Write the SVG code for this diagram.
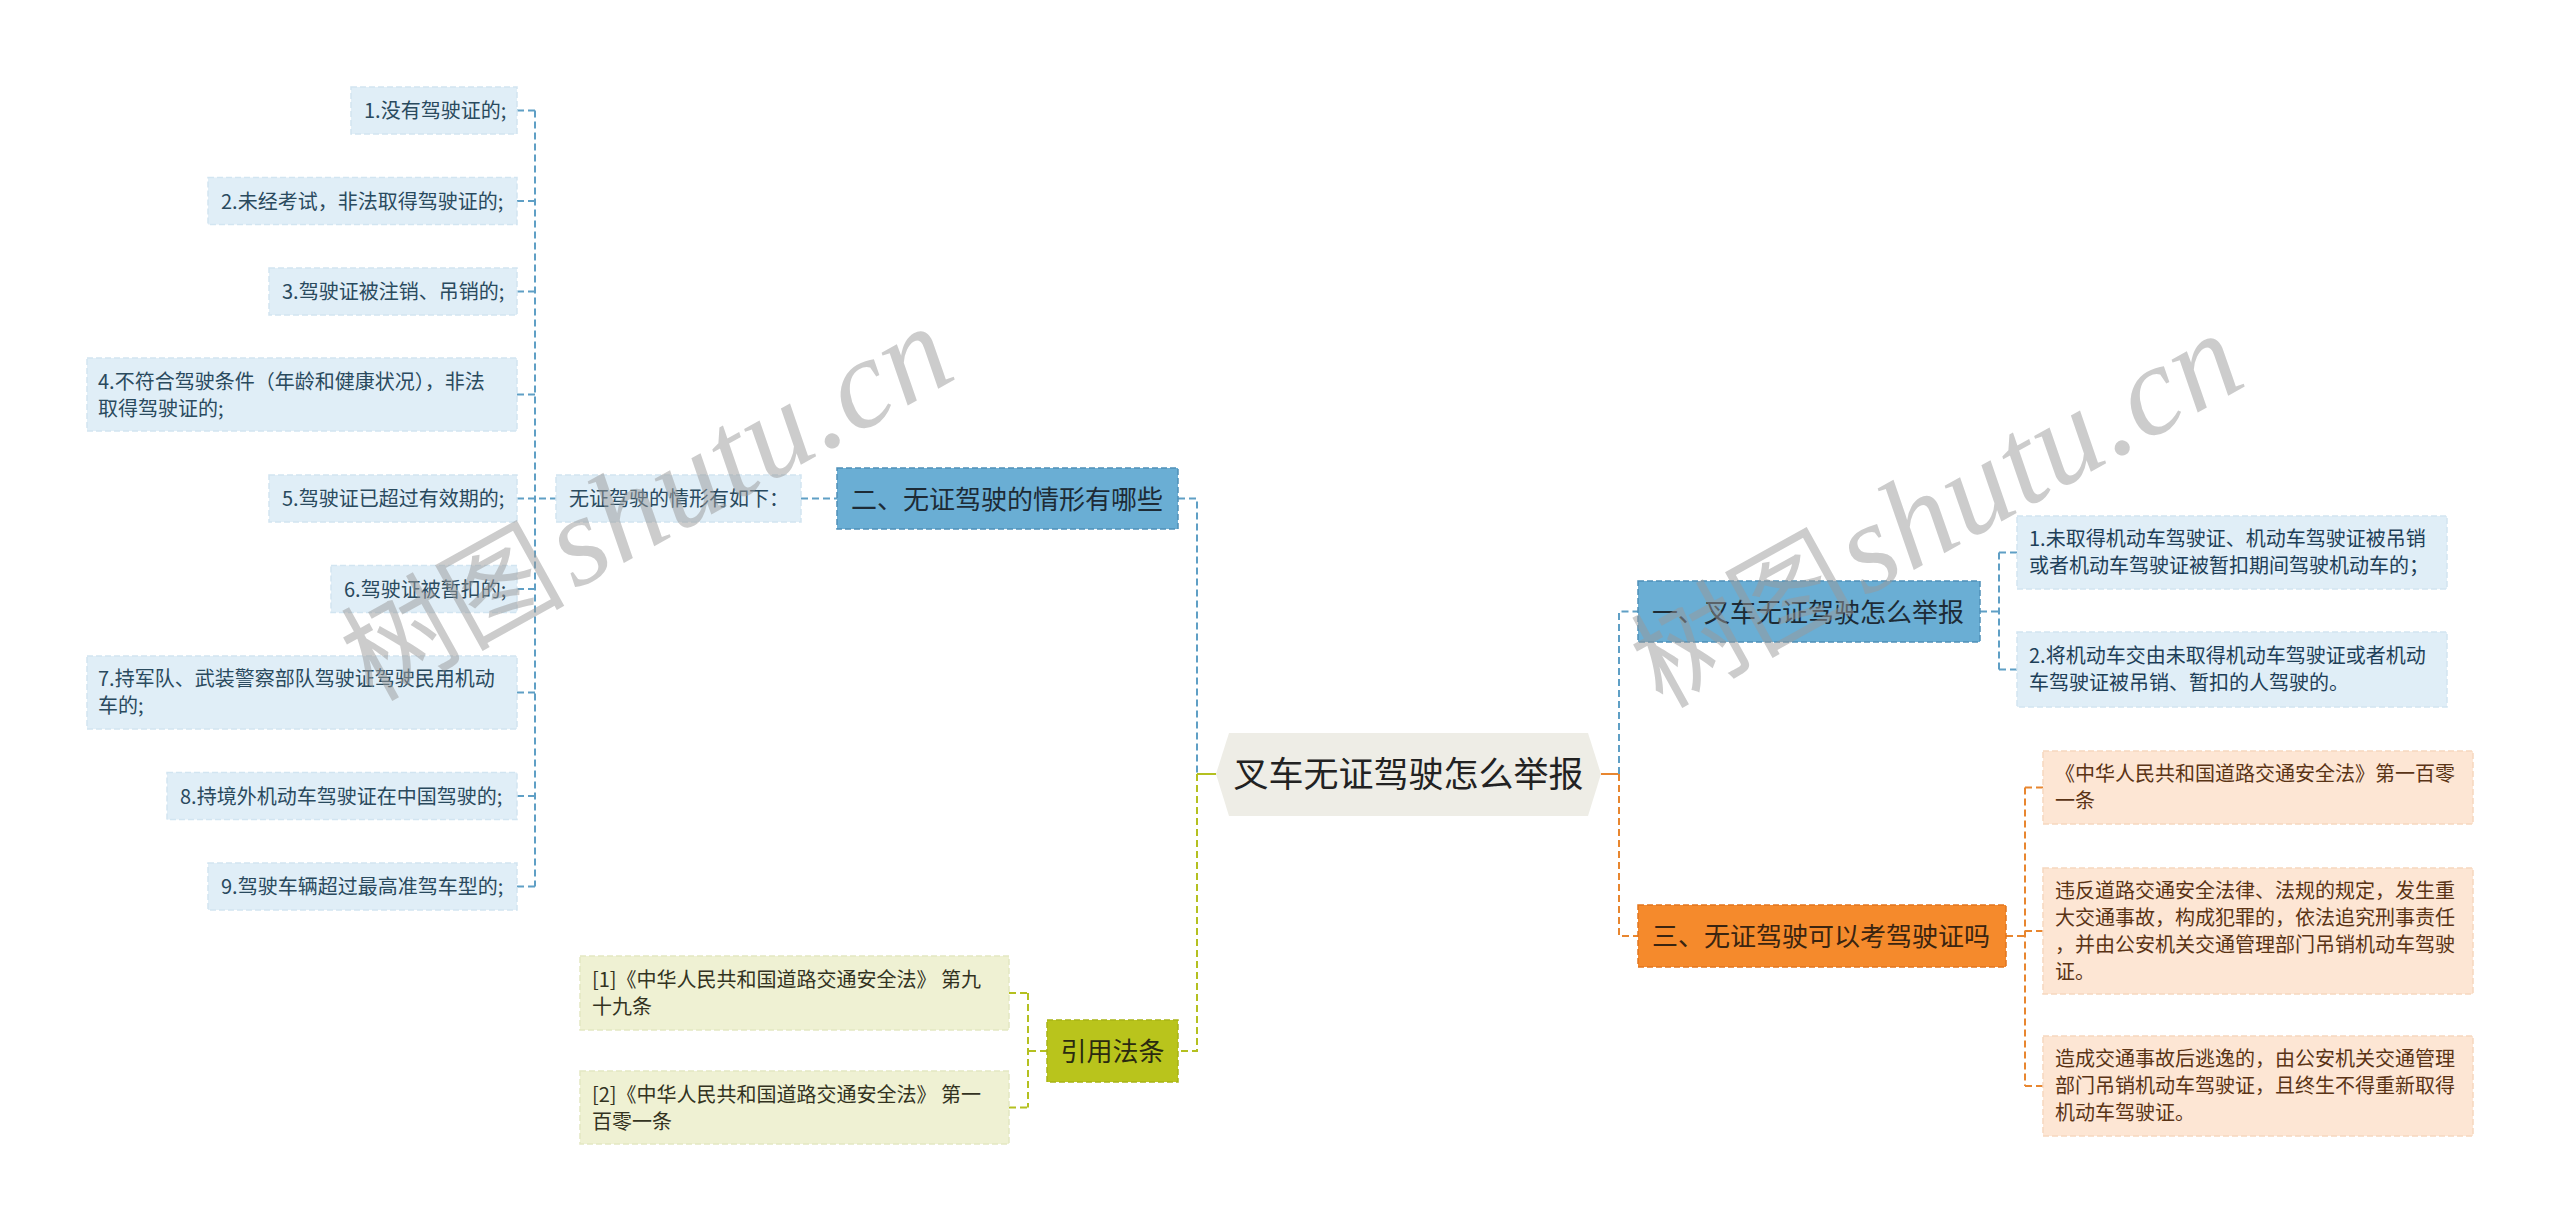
<svg xmlns="http://www.w3.org/2000/svg" width="2560" height="1231" viewBox="0 0 2560 1231">
<style>
text{font-family:"Noto Sans CJK SC","Noto Sans",sans-serif;}
.lf{fill:#e0eef7;stroke:#d2e5f1;stroke-width:1.5;stroke-dasharray:6 3;}
.lt{font-size:20px;fill:#2a4a5e;}
.bt{font-size:20px;fill:#1e3f58;}
.mb{fill:#6aaed4;stroke:#4f90b8;stroke-width:1.5;stroke-dasharray:6 3;}
.mt{font-size:26px;fill:#1d2b36;}
.ob{fill:#f58a2c;stroke:#e2761e;stroke-width:1.5;stroke-dasharray:6 3;}
.ot{font-size:26px;fill:#3a2410;}
.ol{fill:#fde6d4;stroke:#f6d7bf;stroke-width:1.5;stroke-dasharray:6 3;}
.olt{font-size:20px;fill:#5a3416;}
.gb{fill:#b9c41c;stroke:#a8b414;stroke-width:1.5;stroke-dasharray:6 3;}
.gl{fill:#eff1d3;stroke:#e4e7c2;stroke-width:1.5;stroke-dasharray:6 3;}
.glt{font-size:20px;fill:#33331f;}
.cb{fill:none;stroke:#5f9fc5;stroke-width:2;stroke-dasharray:7 4;}
.co{fill:none;stroke:#e8862f;stroke-width:2;stroke-dasharray:7 4;}
.cg{fill:none;stroke:#b4c020;stroke-width:2;stroke-dasharray:7 4;}
.wm{fill:#9a9a9a;opacity:0.5;}
.wl{font-family:"Liberation Serif",serif;font-style:italic;font-size:128px;}
.wc{font-size:112px;}
</style>

<g id="connectors">
  <path class="cb" d="M517,110.5 H535 M517,201 H535 M517,291.5 H535 M517,394.5 H535 M517,498.5 H556 M517,589 H535 M517,692.5 H535 M517,796 H535 M517,886.5 H535 M535,110.5 V886.5"/>
  <path class="cb" d="M801,498.5 H837"/>
  <path class="cb" d="M1178,498.5 H1197 V774"/>
  <path d="M1197,774 H1216" stroke="#b4c020" stroke-width="2" fill="none"/>
  <path class="cg" d="M1197,774 V1051 H1178"/>
  <path class="cg" d="M1047,1051 H1028 M1028,993 V1107.5 M1009,993 H1028 M1009,1107.5 H1028"/>
  <path d="M1601,774 H1619" stroke="#e8862f" stroke-width="2" fill="none"/>
  <path class="cb" d="M1619,774 V611.5 H1638"/>
  <path class="co" d="M1619,774 V936 H1638"/>
  <path class="cb" d="M1980,611.5 H1999 M1999,552.5 V669.5 M1999,552.5 H2017 M1999,669.5 H2017"/>
  <path class="co" d="M2006,936 H2025 M2025,787.5 V1086 M2025,787.5 H2043 M2025,931 H2043 M2025,1086 H2043"/>
</g>

<g id="root">
  <polygon points="1216,774 1229,733 1588,733 1601,774 1588,816 1229,816" fill="#eeede6"/>
  <text x="1408.5" y="787" font-size="35" fill="#222" text-anchor="middle">叉车无证驾驶怎么举报</text>
</g>

<g id="b2">
  <rect class="mb" x="837" y="468" width="341" height="61"/>
  <text class="mt" x="851" y="508.5">二、无证驾驶的情形有哪些</text>
</g>
<g id="b2-sub">
  <rect class="lf" x="556" y="475" width="245" height="47"/>
  <text class="lt" x="569" y="506">无证驾驶的情形有如下：</text>
</g>
<g id="l1"><rect class="lf" x="351" y="87" width="166" height="47"/><text class="lt" x="364" y="118">1.没有驾驶证的;</text></g>
<g id="l2"><rect class="lf" x="208" y="177.5" width="309" height="47"/><text class="lt" x="221" y="208.5">2.未经考试，非法取得驾驶证的;</text></g>
<g id="l3"><rect class="lf" x="269" y="268" width="248" height="47"/><text class="lt" x="282" y="299">3.驾驶证被注销、吊销的;</text></g>
<g id="l4"><rect class="lf" x="87" y="358" width="430" height="73"/><text class="lt" x="98" y="388.5">4.不符合驾驶条件（年龄和健康状况），非法</text><text class="lt" x="98" y="415.5">取得驾驶证的;</text></g>
<g id="l5"><rect class="lf" x="269" y="475" width="248" height="47"/><text class="lt" x="282" y="506">5.驾驶证已超过有效期的;</text></g>
<g id="l6"><rect class="lf" x="331" y="565.5" width="186" height="47"/><text class="lt" x="344" y="596.5">6.驾驶证被暂扣的;</text></g>
<g id="l7"><rect class="lf" x="87" y="656" width="430" height="73"/><text class="lt" x="98" y="686">7.持军队、武装警察部队驾驶证驾驶民用机动</text><text class="lt" x="98" y="713">车的;</text></g>
<g id="l8"><rect class="lf" x="167" y="772.5" width="350" height="47"/><text class="lt" x="180" y="803.5">8.持境外机动车驾驶证在中国驾驶的;</text></g>
<g id="l9"><rect class="lf" x="208" y="863" width="309" height="47"/><text class="lt" x="221" y="894">9.驾驶车辆超过最高准驾车型的;</text></g>

<g id="ref">
  <rect class="gb" x="1047" y="1020" width="131" height="62"/>
  <text x="1112.5" y="1061" font-size="26" fill="#2a2a10" text-anchor="middle">引用法条</text>
</g>
<g id="ref1"><rect class="gl" x="580" y="956" width="429" height="74"/><text class="glt" x="592" y="987">[1]《中华人民共和国道路交通安全法》 第九</text><text class="glt" x="592" y="1014">十九条</text></g>
<g id="ref2"><rect class="gl" x="580" y="1071" width="429" height="73"/><text class="glt" x="592" y="1101.5">[2]《中华人民共和国道路交通安全法》 第一</text><text class="glt" x="592" y="1128.5">百零一条</text></g>

<g id="b1">
  <rect class="mb" x="1638" y="581" width="342" height="61"/>
  <text class="mt" x="1652" y="621.5">一、叉车无证驾驶怎么举报</text>
</g>
<g id="r1"><rect class="lf" x="2017" y="516" width="430" height="73"/><text class="bt" x="2029" y="546">1.未取得机动车驾驶证、机动车驾驶证被吊销</text><text class="bt" x="2029" y="573">或者机动车驾驶证被暂扣期间驾驶机动车的；</text></g>
<g id="r2"><rect class="lf" x="2017" y="632" width="430" height="75"/><text class="bt" x="2029" y="663">2.将机动车交由未取得机动车驾驶证或者机动</text><text class="bt" x="2029" y="690">车驾驶证被吊销、暂扣的人驾驶的。</text></g>

<g id="b3">
  <rect class="ob" x="1638" y="905" width="368" height="62"/>
  <text class="ot" x="1652" y="946">三、无证驾驶可以考驾驶证吗</text>
</g>
<g id="o1"><rect class="ol" x="2043" y="751" width="430" height="73"/><text class="olt" x="2055" y="781">《中华人民共和国道路交通安全法》第一百零</text><text class="olt" x="2055" y="808">一条</text></g>
<g id="o2"><rect class="ol" x="2043" y="868" width="430" height="126"/>
  <text class="olt" x="2055" y="898">违反道路交通安全法律、法规的规定，发生重</text>
  <text class="olt" x="2055" y="925">大交通事故，构成犯罪的，依法追究刑事责任</text>
  <text class="olt" x="2055" y="952">，并由公安机关交通管理部门吊销机动车驾驶</text>
  <text class="olt" x="2055" y="979">证。</text>
</g>
<g id="o3"><rect class="ol" x="2043" y="1036" width="430" height="100"/>
  <text class="olt" x="2055" y="1066">造成交通事故后逃逸的，由公安机关交通管理</text>
  <text class="olt" x="2055" y="1093">部门吊销机动车驾驶证，且终生不得重新取得</text>
  <text class="olt" x="2055" y="1120">机动车驾驶证。</text>
</g>

<g id="watermark">
  <text class="wm wc" transform="translate(372,702) rotate(-29)">树图</text>
  <text class="wm wl" transform="translate(575,590) rotate(-29)" textLength="440" lengthAdjust="spacing">shutu.cn</text>
  <text class="wm wc" transform="translate(1662,709) rotate(-29)">树图</text>
  <text class="wm wl" transform="translate(1865,597) rotate(-29)" textLength="440" lengthAdjust="spacing">shutu.cn</text>
</g>
</svg>
